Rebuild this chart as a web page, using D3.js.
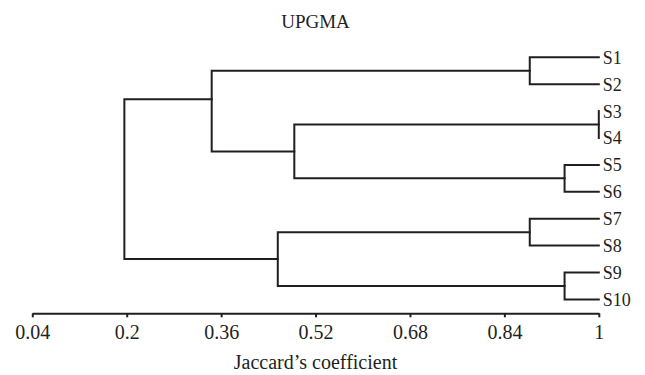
<!DOCTYPE html>
<html>
<head>
<meta charset="utf-8">
<script src="https://cdn.jsdelivr.net/npm/d3@7"></script>
<style>
  body { margin: 0; background: #fff; }
  text { font-family: "Liberation Serif", "Times New Roman", serif; fill: #231f20; }
</style>
</head>
<body>
<div id="chart"></div>
<script>
// leaves, top to bottom
const leaves = ["S1", "S2", "S3", "S4", "S5", "S6", "S7", "S8", "S9", "S10"];

// clusters: children (leaf names or cluster names) and the coefficient where they join
const nodeNames = ["S1-S2", "S3-S4", "S5-S6", "S7-S8", "S9-S10", "S3-S6", "S1-S6", "S7-S10", "root"];
const nodeLeft = ["S1", "S3", "S5", "S7", "S9", "S3-S4", "S1-S2", "S7-S8", "S1-S6"];
const nodeRight = ["S2", "S4", "S6", "S8", "S10", "S5-S6", "S3-S6", "S9-S10", "S7-S10"];
const nodeHeight = [0.883, 1.0, 0.942, 0.883, 0.942, 0.484, 0.344, 0.456, 0.196];
// the drawing program put the S1-S6 branch off-centre (in leaf-index units)
const nodePosOverride = [null, null, null, null, null, null, 1.56, null, null];

const tickValues = [0.04, 0.2, 0.36, 0.52, 0.68, 0.84, 1];
const tickLabels = ["0.04", "0.2", "0.36", "0.52", "0.68", "0.84", "1"];

const width = 645, height = 375;
const ink = "#231f20";

const svg = d3.select("#chart").append("svg")
  .attr("width", width)
  .attr("height", height);

const x = d3.scaleLinear().domain([0.04, 1]).range([32.3, 598.8]);
const y = d3.scaleLinear().domain([0, leaves.length - 1]).range([57.3, 299.4]);

// positions of leaves and nodes
const pos = {};
leaves.forEach((d, i) => { pos[d] = { x: x(1), y: y(i) }; });
nodeNames.forEach((name, i) => {
  const a = pos[nodeLeft[i]], b = pos[nodeRight[i]];
  const yy = nodePosOverride[i] != null ? y(nodePosOverride[i]) : (a.y + b.y) / 2;
  pos[name] = { x: x(nodeHeight[i]), y: yy };
});

// elbow links
const g = svg.append("g")
  .attr("fill", "none")
  .attr("stroke", ink)
  .attr("stroke-width", 2)
  .attr("stroke-linecap", "square");

nodeNames.forEach((name, i) => {
  const p = pos[name];
  const a = pos[nodeLeft[i]], b = pos[nodeRight[i]];
  g.append("path")
    .attr("d", `M${a.x},${a.y}H${p.x}V${b.y}H${b.x}`);
});

// leaf labels
svg.append("g").selectAll("text")
  .data(leaves)
  .join("text")
  .attr("x", x(1) + 4)
  .attr("y", (d, i) => y(i))
  .attr("dy", "0.36em")
  .style("font-size", "18px")
  .text(d => d);

// axis
const axisY = 313.3;
const axis = svg.append("g")
  .attr("transform", `translate(0,${axisY})`)
  .call(d3.axisBottom(x)
    .tickValues(tickValues)
    .tickSize(4)
    .tickSizeOuter(0)
    .tickPadding(8)
    .tickFormat((d, i) => tickLabels[i]));

axis.select(".domain").attr("stroke", ink).attr("stroke-width", 2);
axis.selectAll(".tick line").attr("stroke", ink).attr("stroke-width", 2);
axis.selectAll(".tick text")
  .attr("fill", ink)
  .style("font-family", "'Liberation Serif', serif")
  .style("font-size", "20px");

// title and axis label
svg.append("text")
  .attr("x", 315.5)
  .attr("y", 28)
  .attr("text-anchor", "middle")
  .style("font-size", "19px")
  .text("UPGMA");

svg.append("text")
  .attr("x", 315.5)
  .attr("y", 369)
  .attr("text-anchor", "middle")
  .style("font-size", "20px")
  .text("Jaccard’s coefficient");
</script>
</body>
</html>
